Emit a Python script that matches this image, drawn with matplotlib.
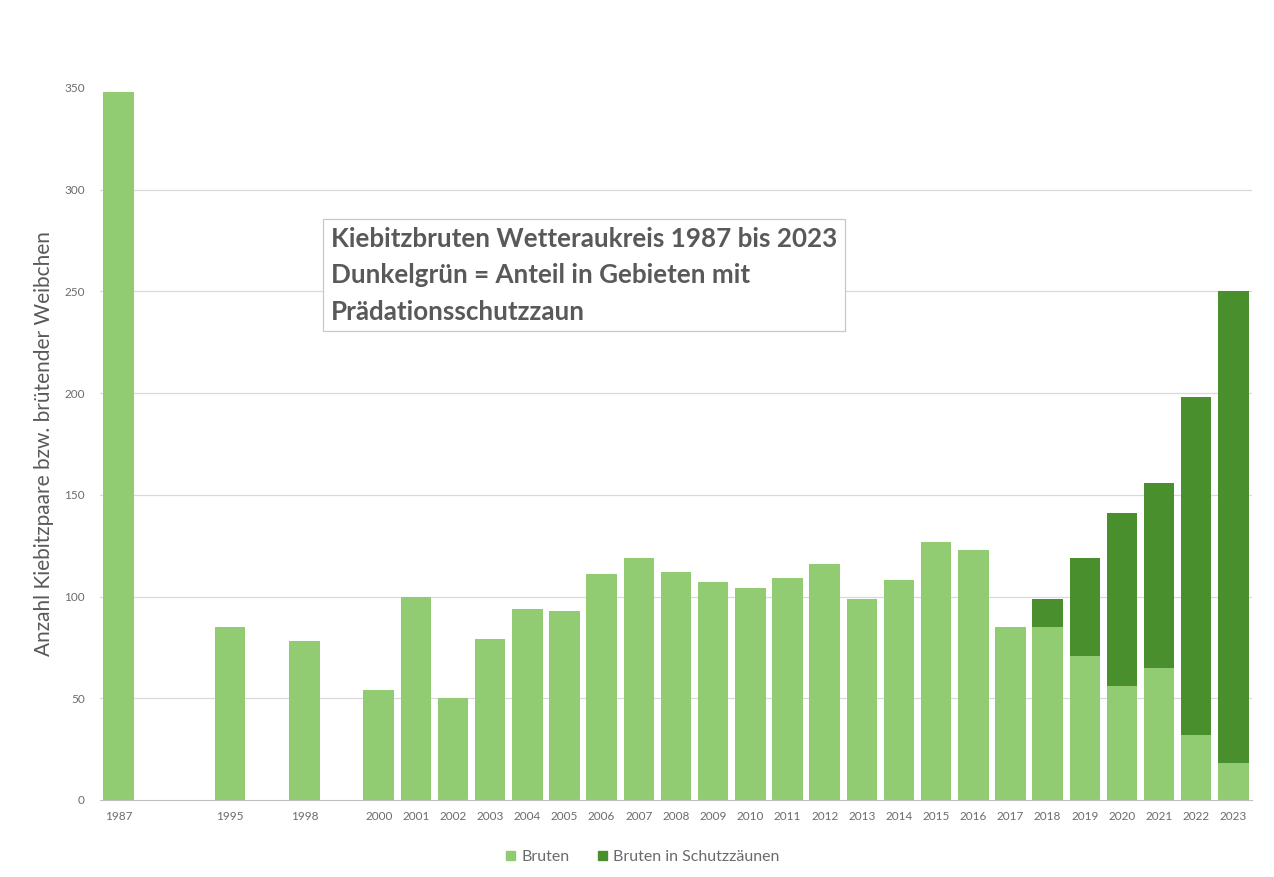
import matplotlib
matplotlib.use("Agg")
import matplotlib.pyplot as plt
from matplotlib.patches import Patch

years = ["1987", "", "", "1995", "", "1998", "", "2000", "2001", "2002", "2003",
         "2004", "2005", "2006", "2007", "2008", "2009", "2010", "2011", "2012",
         "2013", "2014", "2015", "2016", "2017", "2018", "2019", "2020", "2021",
         "2022", "2023"]
bruten = [348, 0, 0, 85, 0, 78, 0, 54, 100, 50, 79,
          94, 93, 111, 119, 112, 107, 104, 109, 116,
          99, 108, 127, 123, 85, 85, 71, 56, 65, 32, 18]
bruten_zaun = [0, 0, 0, 0, 0, 0, 0, 0, 0, 0, 0,
               0, 0, 0, 0, 0, 0, 0, 0, 0,
               0, 0, 0, 0, 0, 14, 48, 85, 91, 166, 232]
yticks = [0, 50, 100, 150, 200, 250, 300, 350]

LIGHT = "#92cc72"
DARK = "#4a8f2e"
GREY = "#595959"
TICKGREY = "#6b6b6b"

plt.rcParams['font.family'] = ['Lato', 'DejaVu Sans']

fig = plt.figure(figsize=(12.74, 8.77), dpi=100)
ax = fig.add_axes([100/1274, 1-800/877, 1152/1274, 712/877])

x = list(range(len(years)))
ax.bar(x, bruten, width=0.82, color=LIGHT, label="Bruten", zorder=2)
ax.bar(x, bruten_zaun, width=0.82, bottom=bruten, color=DARK,
       label="Bruten in Schutzzäunen", zorder=2)

ax.set_xlim(-0.5, len(years) - 0.5)
ax.set_ylim(0, 350)
ax.set_yticks(yticks)
ax.set_yticklabels([str(v) for v in yticks], fontsize=8.5, color=TICKGREY)
ax.set_xticks(x)
ax.set_xticklabels(years, fontsize=8.5, color=TICKGREY)
ax.tick_params(axis='both', length=0)
ax.tick_params(axis='x', pad=8)
ax.tick_params(axis='y', pad=11)
for v in yticks[1:-1]:
    ax.axhline(v, color="#d9d9d9", linewidth=0.9, zorder=0)
for s in ["top", "right", "left"]:
    ax.spines[s].set_visible(False)
ax.spines["bottom"].set_color("#bfbfbf")

ax.set_ylabel("Anzahl Kiebitzpaare bzw. brütender Weibchen", fontsize=15,
              color=GREY, labelpad=7)

ax.text(0.2005, 0.737,
        "Kiebitzbruten Wetteraukreis 1987 bis 2023\nDunkelgrün = Anteil in Gebieten mit\nPrädationsschutzzaun",
        transform=ax.transAxes, fontsize=18.7, fontweight='bold', color=GREY,
        va='center', ha='left', linespacing=1.62, zorder=5,
        bbox=dict(boxstyle="square,pad=0.3", facecolor="white",
                  edgecolor="#c8c8c8", linewidth=0.9))

handles = [Patch(color=LIGHT, label="Bruten"),
           Patch(color=DARK, label="Bruten in Schutzzäunen")]
fig.legend(handles=handles, loc="center", bbox_to_anchor=(643/1274, 1-857/877),
           ncol=2, frameon=False, fontsize=11.5, handlelength=0.55, handleheight=0.55,
           handletextpad=0.4, columnspacing=1.8, labelcolor=TICKGREY)

fig.savefig("out.png", dpi=100, facecolor="white")
